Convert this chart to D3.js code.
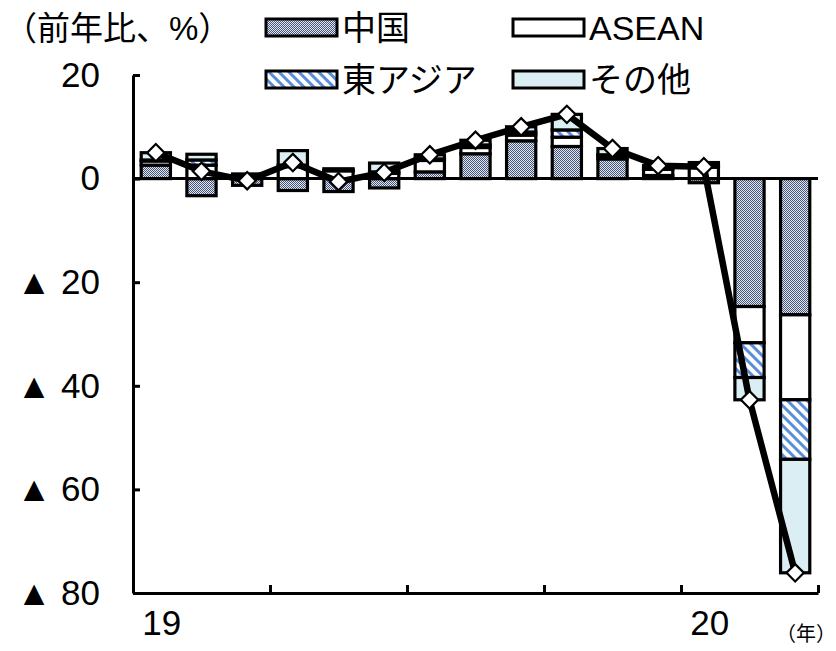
<!DOCTYPE html>
<html>
<head>
<meta charset="utf-8">
<script src="https://cdn.jsdelivr.net/npm/d3@7"></script>
<style>
  body { margin: 0; background: #fff; }
  svg text { font-family: "Liberation Sans", Arial, "Noto Sans CJK JP", sans-serif; fill: #000; }
</style>
</head>
<body>
<svg id="chart" width="836" height="651"></svg>
<script>
// months 2019/1 .. 2020/3
const months = ['19/1', '19/2', '19/3', '19/4', '19/5', '19/6', '19/7', '19/8',
                '19/9', '19/10', '19/11', '19/12', '20/1', '20/2', '20/3'];
const china = [2.6, -3.3, -1.3, -2.3, -2.5, -1.8, 1.3, 4.8, 7.3, 6.2, 3.8, 0.6, -0.8, -24.7, -26.3];
const asean = [0.8, 2.6, 0.6, 2.3, 1.5, 1.0, 2.2, 1.2, 1.1, 1.8, 0.6, 1.2, 2.2, -7.0, -16.4];
const eastAsia = [0.2, 1.0, 0.05, 0.3, 0.1, 0.3, 0.3, 0.5, 0.6, 1.4, 0.2, 0.2, 0.3, -6.7, -11.5];
const other = [1.4, 1.1, 0.25, 2.8, 0.3, 1.7, 0.8, 0.9, 1.0, 3.0, 1.2, 0.5, 0.6, -4.3, -21.9];
const yTicks = [20, 0, -20, -40, -60, -80];
const xTickIdx = [3, 6, 9, 12, 15];      // boundaries (every 3 months)
const yearLabels = [{i: 0, text: '19'}, {i: 12, text: '20'}];
const seriesNames = ['中国', 'ASEAN', '東アジア', 'その他'];

let svg = d3.select('#chart');
let margin = {top: 75, left: 133, right: 18, bottom: 58};
let width = 836 - margin.left - margin.right;
let height = 651 - margin.top - margin.bottom;

// patterns
let defs = svg.append('defs');
let pChina = defs.append('pattern').attr('id', 'pat-china')
                 .attr('width', 2).attr('height', 2).attr('patternUnits', 'userSpaceOnUse');
pChina.append('rect').attr('width', 2).attr('height', 2).attr('fill', '#e4e8ee');
pChina.append('rect').attr('width', 1).attr('height', 1).attr('fill', '#44567a');
pChina.append('rect').attr('x', 1).attr('y', 1).attr('width', 1).attr('height', 1).attr('fill', '#44567a');

let pEA = defs.append('pattern').attr('id', 'pat-ea')
              .attr('width', 7).attr('height', 7).attr('patternUnits', 'userSpaceOnUse')
              .attr('patternTransform', 'rotate(-45)');
pEA.append('rect').attr('width', 7).attr('height', 7).attr('fill', '#fff');
pEA.append('rect').attr('width', 3).attr('height', 7).attr('fill', '#5a8ed8');

const fills = ['url(#pat-china)', '#ffffff', 'url(#pat-ea)', '#daeef3'];

let data = months.map((m, i) => ({
  month: m, s0: china[i], s1: asean[i], s2: eastAsia[i], s3: other[i],
  total: china[i] + asean[i] + eastAsia[i] + other[i],
}));

let stack = d3.stack().keys(['s0', 's1', 's2', 's3']).offset(d3.stackOffsetDiverging);
let layers = stack(data);

let scale = {
  x: d3.scaleBand().domain(months).range([0, width]).paddingInner(0.36).paddingOuter(0.18),
  xi: d3.scaleLinear().domain([0, months.length]).range([0, width]),
  y: d3.scaleLinear().domain([-80, 20]).range([height, 0]),
};

let g = svg.append('g').attr('transform', `translate(${margin.left}, ${margin.top})`);

// bars
g.selectAll('g.layer')
 .data(layers)
 .enter()
 .append('g')
 .classed('layer', true)
 .attr('fill', (d, i) => fills[i])
 .selectAll('rect')
 .data((d) => d)
 .enter()
 .append('rect')
 .attr('x', (d) => scale.x(d.data.month))
 .attr('y', (d) => scale.y(Math.max(d[0], d[1])))
 .attr('width', scale.x.bandwidth())
 .attr('height', (d) => Math.abs(scale.y(d[0]) - scale.y(d[1])))
 .attr('stroke', '#000')
 .attr('stroke-width', 3.2);

// zero line
g.append('line')
 .attr('x1', 0).attr('x2', width)
 .attr('y1', scale.y(0)).attr('y2', scale.y(0))
 .attr('stroke', '#000').attr('stroke-width', 3);

// y axis, ticks inward
let axisY = g.append('g')
  .call(d3.axisLeft(scale.y).tickValues(yTicks).tickSizeInner(-7).tickSizeOuter(0).tickPadding(33)
          .tickFormat((d) => d < 0 ? '▲ ' + (-d) : d));
axisY.select('.domain').attr('stroke', '#000').attr('stroke-width', 3);
axisY.selectAll('.tick line').attr('stroke', '#000').attr('stroke-width', 3);
axisY.selectAll('.tick text').style('font-size', '35px');

// x axis, ticks upward
let axisX = g.append('g').attr('transform', `translate(0, ${height})`)
  .call(d3.axisBottom(scale.xi).tickValues(xTickIdx).tickSizeInner(-8).tickSizeOuter(0).tickFormat(''));
axisX.select('.domain').attr('stroke', '#000').attr('stroke-width', 3);
axisX.selectAll('.tick line').attr('stroke', '#000').attr('stroke-width', 3);

g.selectAll('text.year')
 .data(yearLabels)
 .enter()
 .append('text')
 .classed('year', true)
 .attr('x', (d) => scale.x(months[d.i]) + scale.x.bandwidth() / 2 + 6)
 .attr('y', height + 42)
 .attr('text-anchor', 'middle')
 .style('font-size', '35px')
 .text((d) => d.text);

svg.append('text').attr('x', 836).attr('y', 641).attr('text-anchor', 'end')
   .style('font-size', '20px').text('（年）');

// total line
let cx = (d) => scale.x(d.month) + scale.x.bandwidth() / 2;
g.append('path')
 .datum(data)
 .attr('fill', 'none')
 .attr('stroke', '#000')
 .attr('stroke-width', 6.5)
 .attr('stroke-linejoin', 'round')
 .attr('d', d3.line().x(cx).y((d) => scale.y(d.total)));

g.selectAll('path.marker')
 .data(data)
 .enter()
 .append('path')
 .classed('marker', true)
 .attr('d', d3.symbol(d3.symbolSquare, 150))
 .attr('transform', (d) => `translate(${cx(d)}, ${scale.y(d.total)}) rotate(45)`)
 .attr('fill', '#fff')
 .attr('stroke', '#000')
 .attr('stroke-width', 2.2);

// unit label
svg.append('text').attr('x', 4).attr('y', 40).style('font-size', '33px').text('（前年比、%）');

// legend
let legendPos = [{x: 266, y: 19}, {x: 513, y: 19}, {x: 266, y: 71}, {x: 513, y: 71}];
let legend = svg.selectAll('g.legend')
  .data(seriesNames)
  .enter()
  .append('g')
  .classed('legend', true)
  .attr('transform', (d, i) => `translate(${legendPos[i].x}, ${legendPos[i].y})`);
legend.append('rect')
      .attr('width', 71).attr('height', 17)
      .attr('fill', (d, i) => fills[i])
      .attr('stroke', '#000').attr('stroke-width', 3);
legend.append('text')
      .attr('x', 76).attr('y', 21)
      .style('font-size', '34px')
      .text((d) => d);
</script>
</body>
</html>
